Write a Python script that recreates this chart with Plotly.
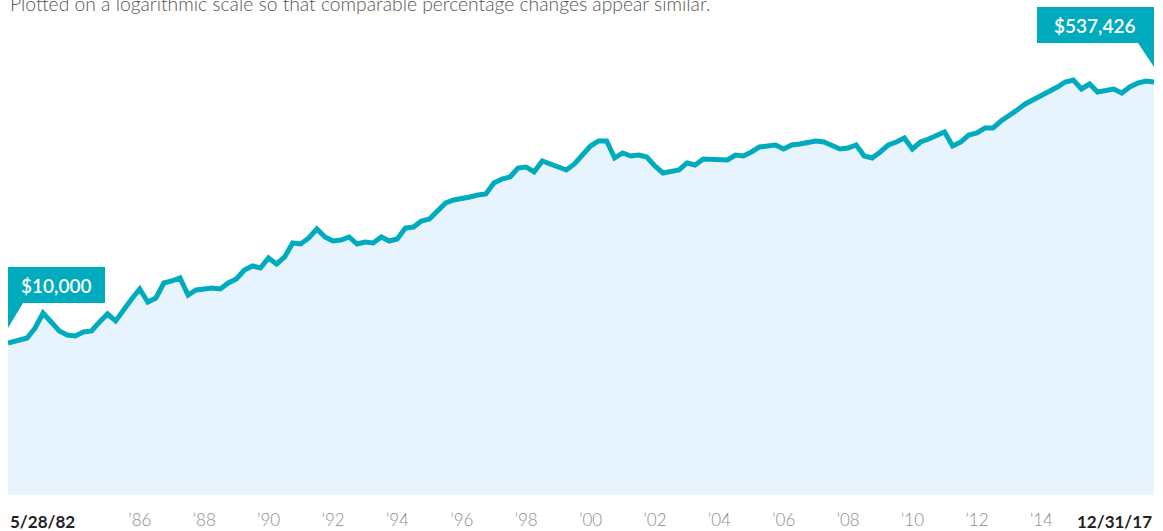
import pandas as pd
import plotly.graph_objects as go

# ---- data (quarterly growth of $10,000) ----
start_date = "1982-05-28"
end_date = "2017-12-31"
try:
    quarter_ends = pd.date_range("1982-09-30", end_date, freq="QE")
except Exception:
    quarter_ends = pd.date_range("1982-09-30", end_date, freq="Q")
dates = [pd.Timestamp(start_date)] + list(quarter_ends)

values = [
    10000, 10470, 10790, 12570, 15800, 13780, 12010, 11300, 11130, 11830,
    12010, 13780, 15570, 14000, 16800, 19570, 22800, 18700, 19870, 24990,
    25770, 26970, 20800, 22460, 22800, 23150, 22800, 24990, 26560, 30480,
    32390, 31430, 36610, 33390, 37170, 46020, 45320, 49670, 56990, 50430,
    47440, 48170, 50430, 45320, 46720, 46020, 50430, 47440, 48910, 57870,
    58760, 64400, 66400, 75020, 84770, 88740, 90100, 92890, 95770, 97250,
    115010, 122250, 126030, 144620, 146850, 136070, 160920, 153720, 149100, 140280,
    153720, 176340, 202300, 218380, 218380, 168450, 181800, 173680, 176340, 171050,
    149100, 134010, 136070, 140280, 156090, 151400, 165900, 165900, 165900, 163390,
    176340, 173680, 184600, 199250, 202300, 205410, 193250, 205410, 208570, 211780,
    218380, 215050, 205410, 193250, 196220, 205410, 173680, 168450, 184600, 205410,
    215050, 228610, 193250, 215050, 225150, 239290, 250490, 202300, 215050, 239290,
    246700, 266290, 266290, 296320, 319840, 350520, 384130, 408280, 434000, 461310,
    497900, 537430, 554100, 483000, 521200, 461310, 475700, 483000, 454400, 497900,
    529200, 545600, 537426,
]

tick_years = list(range(1986, 2016, 2))
tick_labels = ["\u2019" + str(y)[2:] for y in tick_years]
start_label = "5/28/82"
end_label = "12/31/17"
start_value_label = "$10,000"
end_value_label = "$537,426"
subtitle = "Plotted on a logarithmic scale so that comparable percentage changes appear similar."

# ---- styles ----
TEAL = "#00abbe"
FILL = "#e8f4fd"
FONT = "Lato"

fig = go.Figure()
fig.add_trace(go.Scatter(
    x=dates, y=values, mode="lines",
    line=dict(color=TEAL, width=5),
    fill="tozeroy", fillcolor=FILL,
    hoverinfo="skip", showlegend=False,
))

fig.update_layout(
    width=1163, height=531,
    margin=dict(l=8, r=9, t=0, b=36),
    paper_bgcolor="white", plot_bgcolor="white",
    font=dict(family=FONT),
    xaxis=dict(
        type="date",
        range=[start_date, end_date],
        tickvals=[f"{y}-07-01" for y in tick_years],
        ticktext=tick_labels,
        showgrid=False, zeroline=False, showline=False, ticks="",
        tickfont=dict(family=FONT, size=17, color="#8c8c8c", weight=300),
        ticklabelstandoff=13,
    ),
    yaxis=dict(
        type="log", range=[2.9923, 6.2739],
        showgrid=False, zeroline=False, showline=False,
        showticklabels=False, ticks="",
    ),
)

# subtitle (partly cut at the top, as in the reference)
fig.add_annotation(
    text=subtitle, xref="paper", yref="paper", x=0, y=1,
    xanchor="left", yanchor="middle", yshift=-3, showarrow=False,
    font=dict(family=FONT, size=19.3, color="#555555", weight=300),
)

# endpoint date labels
fig.add_annotation(
    text=start_label, xref="x", yref="paper", x=start_date, y=0,
    xanchor="left", yanchor="middle", yshift=-26, showarrow=False,
    font=dict(family=FONT, size=17, color="#222222", weight=700),
)
fig.add_annotation(
    text=end_label, xref="x", yref="paper", x=end_date, y=0,
    xanchor="right", yanchor="middle", yshift=-26, showarrow=False,
    font=dict(family=FONT, size=17, color="#222222", weight=700),
)

# callout bubbles anchored to the first and last data points
fig.add_shape(
    type="path", xref="x", yref="y",
    xsizemode="pixel", ysizemode="pixel",
    xanchor=dates[0], yanchor=values[0],
    path="M 0 15 L 0 76 L 97 76 L 97 40 L 15 40 Z",
    fillcolor=TEAL, line=dict(width=0), layer="above",
)
fig.add_annotation(
    text=start_value_label, xref="x", yref="y", x=dates[0], y=4.0,
    xanchor="center", yanchor="middle", xshift=48, yshift=58, showarrow=False,
    font=dict(family=FONT, size=19, color="white", weight=600),
)
fig.add_shape(
    type="path", xref="x", yref="y",
    xsizemode="pixel", ysizemode="pixel",
    xanchor=dates[-1], yanchor=values[-1],
    path="M 0 15 L 0 75 L -117 75 L -117 39 L -16 39 Z",
    fillcolor=TEAL, line=dict(width=0), layer="above",
)
fig.add_annotation(
    text=end_value_label, xref="x", yref="y", x=dates[-1], y=5.7303,
    xanchor="center", yanchor="middle", xshift=-59, yshift=57, showarrow=False,
    font=dict(family=FONT, size=19, color="white", weight=600),
)

fig.write_html("out.html", config={"displayModeBar": False})

# remove the browser's default page margin so the figure sits at (0, 0)
with open("out.html", "r", encoding="utf-8") as f:
    html = f.read()
html = html.replace("<body>", '<body style="margin:0;padding:0;">', 1)
with open("out.html", "w", encoding="utf-8") as f:
    f.write(html)
